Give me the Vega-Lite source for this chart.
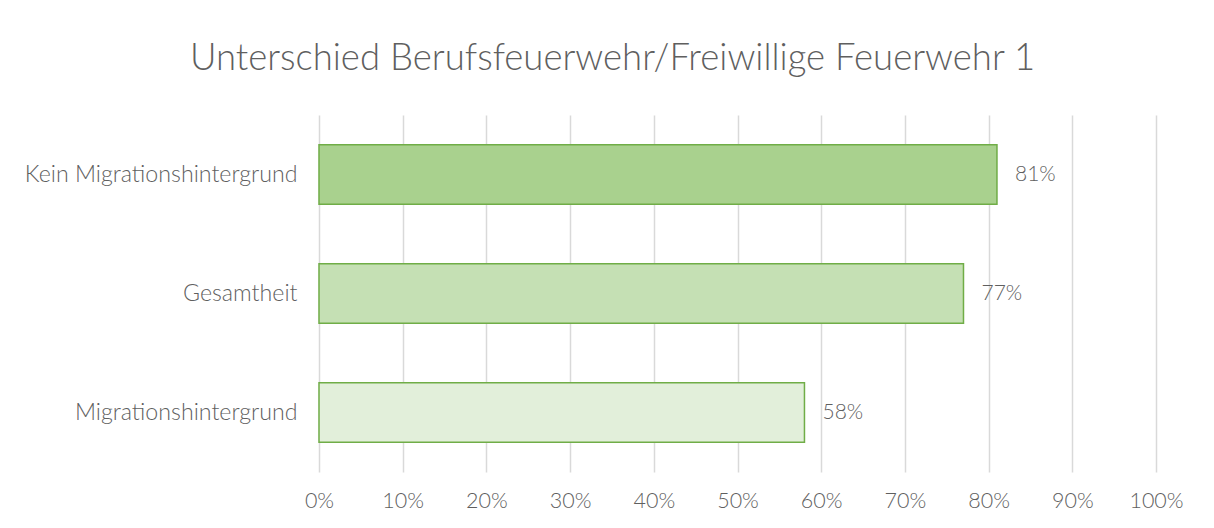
{
  "$schema": "https://vega.github.io/schema/vega-lite/v6.json",
  "width": 837,
  "height": 357,
  "autosize": {"type": "none"},
  "padding": {"left": 319, "top": 115, "right": 58, "bottom": 56},
  "background": "white",
  "title": {
    "text": "Unterschied Berufsfeuerwehr/Freiwillige Feuerwehr 1",
    "font": "Lato",
    "fontSize": 36.5,
    "fontWeight": 300,
    "color": "#5f5f5f",
    "anchor": "middle",
    "frame": "group",
    "dx": -125,
    "offset": 38
  },
  "data": {
    "values": [
      {"gruppe": "Kein Migrationshintergrund", "anteil": 0.81},
      {"gruppe": "Gesamtheit", "anteil": 0.77},
      {"gruppe": "Migrationshintergrund", "anteil": 0.58}
    ]
  },
  "encoding": {
    "y": {
      "field": "gruppe",
      "type": "nominal",
      "sort": ["Kein Migrationshintergrund", "Gesamtheit", "Migrationshintergrund"],
      "scale": {"paddingInner": 0.5, "paddingOuter": 0.25},
      "axis": {
        "title": null,
        "domain": false,
        "ticks": false,
        "labelPadding": 22,
        "labelFont": "Lato",
        "labelFontSize": 23.2,
        "labelFontWeight": 300,
        "labelColor": "#5f5f5f",
        "labelLimit": 400,
        "grid": false
      }
    },
    "x": {
      "field": "anteil",
      "type": "quantitative",
      "scale": {"domain": [0, 1], "nice": false},
      "axis": {
        "title": null,
        "format": ".0%",
        "values": [0, 0.1, 0.2, 0.3, 0.4, 0.5, 0.6, 0.7, 0.8, 0.9, 1],
        "domain": false,
        "ticks": false,
        "labelFlush": false,
        "labelOverlap": false,
        "labelPadding": 18,
        "labelFont": "Lato",
        "labelFontSize": 21.5,
        "labelFontWeight": 300,
        "labelColor": "#5f5f5f",
        "grid": true,
        "gridColor": "#d9d9d9",
        "gridWidth": 1.5
      }
    }
  },
  "layer": [
    {
      "mark": {"type": "bar", "stroke": "#70ad47", "strokeWidth": 1.5},
      "encoding": {
        "color": {
          "field": "gruppe",
          "type": "nominal",
          "scale": {
            "domain": ["Kein Migrationshintergrund", "Gesamtheit", "Migrationshintergrund"],
            "range": ["#a9d18e", "#c5e0b4", "#e2efda"]
          },
          "legend": null
        }
      }
    },
    {
      "mark": {"type": "text", "align": "left", "dx": 18, "font": "Lato", "fontSize": 21, "fontWeight": 300, "color": "#5f5f5f"},
      "encoding": {
        "text": {"field": "anteil", "type": "quantitative", "format": ".0%"}
      }
    }
  ],
  "config": {"view": {"stroke": null}}
}
